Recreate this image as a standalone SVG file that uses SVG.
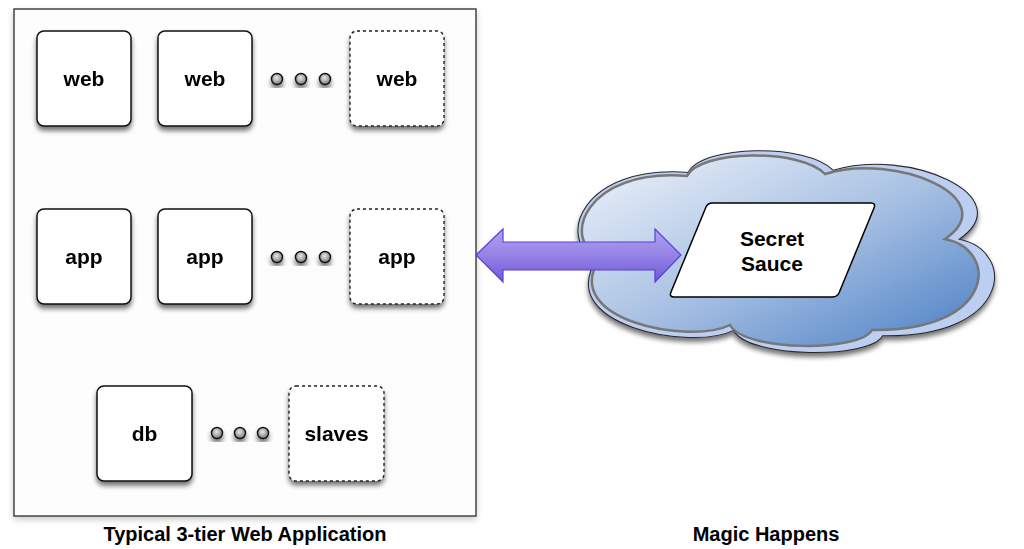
<svg xmlns="http://www.w3.org/2000/svg" width="1024" height="549" viewBox="0 0 1024 549">
<defs>
<style>
.box{fill:#fff;stroke:#111;stroke-width:1.5}
.dash{fill:#fff;stroke:#222;stroke-width:1.4;stroke-dasharray:3 3}
.lbl{font-family:"Liberation Sans",Arial,sans-serif;font-weight:bold;font-size:21px;fill:#000;text-anchor:middle}
.cap{font-family:"Liberation Sans",Arial,sans-serif;font-weight:bold;font-size:20px;fill:#000;text-anchor:middle}
.dot{fill:url(#dotg);stroke:#111;stroke-width:1.4}
</style>
<filter id="sh" x="-20%" y="-20%" width="140%" height="150%">
<feGaussianBlur in="SourceAlpha" stdDeviation="2.5"/>
<feOffset dx="0" dy="4" result="b"/>
<feComponentTransfer><feFuncA type="linear" slope="0.55"/></feComponentTransfer>
<feMerge><feMergeNode/><feMergeNode in="SourceGraphic"/></feMerge>
</filter>
<filter id="shl" x="-10%" y="-10%" width="120%" height="120%">
<feGaussianBlur in="SourceAlpha" stdDeviation="3"/>
<feOffset dx="0" dy="3" result="b"/>
<feComponentTransfer><feFuncA type="linear" slope="0.2"/></feComponentTransfer>
<feMerge><feMergeNode/><feMergeNode in="SourceGraphic"/></feMerge>
</filter>
<radialGradient id="dotg" cx="0.45" cy="0.4" r="0.6">
<stop offset="0" stop-color="#e8e8e8"/>
<stop offset="1" stop-color="#7a7a7a"/>
</radialGradient>
<linearGradient id="cloudg" x1="0" y1="0" x2="1" y2="1">
<stop offset="0" stop-color="#f0f4fa"/>
<stop offset="0.5" stop-color="#a9c2e4"/>
<stop offset="1" stop-color="#4a7ec4"/>
</linearGradient>
<linearGradient id="arrg" x1="0" y1="0" x2="0" y2="1">
<stop offset="0" stop-color="#b0a4f0"/>
<stop offset="0.5" stop-color="#9582e6"/>
<stop offset="1" stop-color="#6f58d8"/>
</linearGradient>
<path id="cloudpath" d="M600,258 C560,240 585,168 687,176 C700,150 800,148 825,174 C895,152 1005,198 945,239 C1000,250 995,332 872,330 C860,352 745,352 730,325 C690,345 558,320 600,258 Z"/>
</defs>
<rect width="1024" height="549" fill="#fff"/>

<g id="container">
<rect x="14" y="9" width="462" height="507" fill="#fdfdfd" stroke="#444" stroke-width="1.5" filter="url(#shl)"/>
</g>

<g id="web1" filter="url(#sh)"><rect class="box" x="37" y="31" width="94" height="95" rx="7"/><text class="lbl" x="84" y="86">web</text></g>
<g id="web2" filter="url(#sh)"><rect class="box" x="158" y="31" width="94" height="95" rx="7"/><text class="lbl" x="205" y="86">web</text></g>
<g id="web-dots" filter="url(#sh)"><circle class="dot" cx="277" cy="79" r="5.5"/><circle class="dot" cx="301" cy="79" r="5.5"/><circle class="dot" cx="325" cy="79" r="5.5"/></g>
<g id="webn" filter="url(#sh)"><rect class="dash" x="350" y="31" width="94" height="95" rx="7"/><text class="lbl" x="397" y="86">web</text></g>

<g id="app1" filter="url(#sh)"><rect class="box" x="37" y="209" width="94" height="95" rx="7"/><text class="lbl" x="84" y="264">app</text></g>
<g id="app2" filter="url(#sh)"><rect class="box" x="158" y="209" width="94" height="95" rx="7"/><text class="lbl" x="205" y="264">app</text></g>
<g id="app-dots" filter="url(#sh)"><circle class="dot" cx="277" cy="257" r="5.5"/><circle class="dot" cx="301" cy="257" r="5.5"/><circle class="dot" cx="325" cy="257" r="5.5"/></g>
<g id="appn" filter="url(#sh)"><rect class="dash" x="350" y="209" width="94" height="95" rx="7"/><text class="lbl" x="397" y="264">app</text></g>

<g id="db" filter="url(#sh)"><rect class="box" x="97" y="386" width="95" height="95" rx="7"/><text class="lbl" x="144.5" y="441">db</text></g>
<g id="db-dots" filter="url(#sh)"><circle class="dot" cx="217" cy="433" r="5.5"/><circle class="dot" cx="240" cy="433" r="5.5"/><circle class="dot" cx="263" cy="433" r="5.5"/></g>
<g id="slaves" filter="url(#sh)"><rect class="dash" x="289" y="386" width="95" height="95" rx="7"/><text class="lbl" x="336.5" y="441">slaves</text></g>

<g id="cloud">
<use href="#cloudpath" transform="translate(786,253) scale(1.05,1.06) translate(-780,-252)" fill="#bccff3" stroke="#2a2a2a" stroke-width="1" filter="url(#sh)"/>
<use href="#cloudpath" fill="url(#cloudg)" stroke="#777" stroke-width="2.5"/>
</g>

<g id="secret-sauce">
<path d="M712,203 L871,203 Q876,203 874,208 L839,293 Q837,297 832,297 L674,297 Q669,297 671,292 L706,207 Q708,203 712,203 Z" fill="#fff" stroke="#000" stroke-width="1.5"/>
<text class="lbl" x="772" y="246">Secret</text>
<text class="lbl" x="772" y="271">Sauce</text>
</g>

<g id="connectors">
<polygon points="476,255 503,229 503,242 655,242 655,229 681,255 655,282 655,270 503,270 503,282" fill="url(#arrg)" stroke="#5a40d4" stroke-width="1.2" stroke-linejoin="miter"/>
</g>

<g id="captions">
<text class="cap" x="245" y="541">Typical 3-tier Web Application</text>
<text class="cap" x="766" y="541">Magic Happens</text>
</g>
</svg>
